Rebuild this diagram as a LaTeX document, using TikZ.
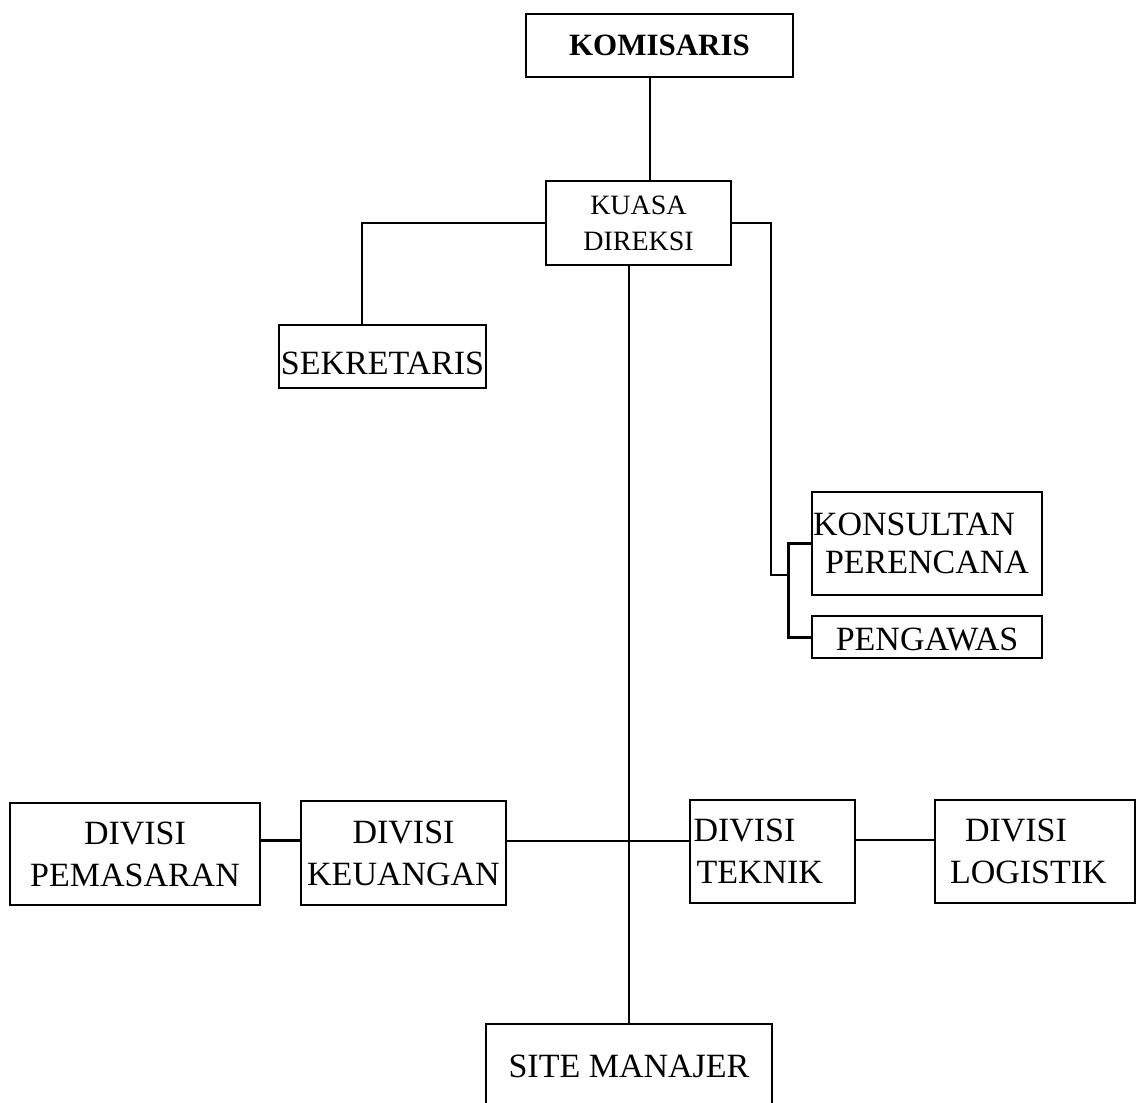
\documentclass[tikz,border=0pt]{standalone}
\usepackage{fontspec}
\setmainfont{Liberation Serif}
\begin{document}
\begin{tikzpicture}[x=1pt,y=-1pt,
  box/.style={draw, line width=1.6pt, rectangle, inner sep=0pt, align=center,
    font=\fontsize{34}{42}\selectfont},
  link/.style={line width=1.6pt},
  heavy/.style={line width=3pt}]
\useasboundingbox (0,0) rectangle (1136,1103);
\fill[white] (0,0) rectangle (1136,1103);
\node[box, minimum width=267pt, minimum height=63pt, font=\fontsize{31}{36}\selectfont\bfseries] (kom) at (659.5,45.5) {KOMISARIS};
\node[box, minimum width=185pt, minimum height=84pt, font=\fontsize{28}{36}\selectfont] (kd) at (638.5,223) {KUASA\\DIREKSI};
\node[box, minimum width=207pt, minimum height=63pt, text height=43pt, text depth=7pt] (sek) at (382.5,356.5) {SEKRETARIS};
\node[box, minimum width=230pt, minimum height=103pt, text width=228pt, align=left, font=\fontsize{34}{38}\selectfont] (kon) at (927,543.5) {KONSULTAN\\\hspace*{12pt}PERENCANA};
\node[box, minimum width=230pt, minimum height=42pt, text height=31pt, text depth=5pt] (peng) at (927,637) {PENGAWAS};
\node[box, minimum width=250pt, minimum height=102pt] (pem) at (135,854) {DIVISI\\PEMASARAN};
\node[box, minimum width=205pt, minimum height=104pt] (keu) at (403.5,853) {DIVISI\\KEUANGAN};
\node[box, minimum width=165pt, minimum height=103pt, text width=158pt, align=left] (tek) at (772.5,851.5) {DIVISI\\\hspace*{3pt}TEKNIK};
\node[box, minimum width=200pt, minimum height=103pt, text width=190pt, align=left] (log) at (1035,851.5) {\hspace*{25pt}DIVISI\\\hspace*{10pt}LOGISTIK};
\node[box, minimum width=286pt, minimum height=100pt, text height=53pt, text depth=47pt] (site) at (629,1074) {SITE MANAJER};
% connectors
\draw[link] ([xshift=-9.5pt]kom.south) -- ([xshift=-9.5pt]kom.south |- kd.north);
\draw[link] (kd.west) -| ([xshift=-20.5pt]sek.north);
\coordinate (br) at (788,575);
\draw[link] (kd.east) -| (771,575) -- (br);
\draw[heavy] (kon.west) -- (kon.west -| br) -- (peng.west -| br) -- (peng.west);
\draw[link] (site.north |- kd.south) -- (site.north);
\draw[heavy] ([yshift=13pt]keu.west) -- ([yshift=13pt]keu.west -| pem.east);
\draw[link] ([yshift=12pt]keu.east) -- ([yshift=12pt]keu.east -| tek.west);
\draw[link] ([yshift=11.5pt]tek.east) -- ([yshift=11.5pt]tek.east -| log.west);
\end{tikzpicture}
\end{document}
